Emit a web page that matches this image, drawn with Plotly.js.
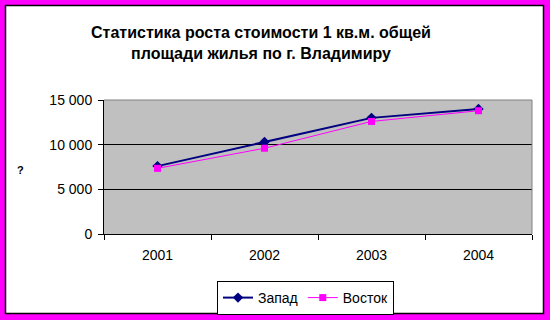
<!DOCTYPE html>
<html>
<head>
<meta charset="utf-8">
<script src="https://cdn.plot.ly/plotly-3.0.1.min.js"></script>
<style>html,body{margin:0;padding:0;background:#FF00FF;} #chart{width:550px;height:320px;}</style>
</head>
<body>
<div id="chart"></div>
<script>
const years = ['2001', '2002', '2003', '2004'];
const zapad = [7600, 10300, 13000, 14000];
const vostok = [7350, 9600, 12600, 13800];
const seriesNames = ['Запад', 'Восток'];
const titleText = 'Статистика роста стоимости 1 кв.м. общей<br>площади жилья по г. Владимиру';
const yTitleText = '?';

const W = 550, H = 320;
const mL = 104, mR = 18, mT = 100, mB = 86;
const pw = W - mL - mR, ph = H - mT - mB;
const px = v => (v - mL) / pw;
const py = v => (H - mB - v) / ph;

const font = 'Arial, "Liberation Sans", sans-serif';

const traces = [
  {
    x: years, y: zapad, name: seriesNames[0], type: 'scatter', mode: 'lines+markers',
    line: {color: '#000080', width: 2},
    marker: {symbol: 'diamond', size: 8, color: '#000080'}
  },
  {
    x: years, y: vostok, name: seriesNames[1], type: 'scatter', mode: 'lines+markers',
    line: {color: '#FF00FF', width: 1},
    marker: {symbol: 'square', size: 7, color: '#FF00FF'}
  }
];

const layout = {
  width: W, height: H,
  margin: {l: mL, r: mR, t: mT, b: mB, pad: 0, autoexpand: false},
  paper_bgcolor: '#FF00FF',
  plot_bgcolor: '#C0C0C0',
  separators: ', ',
  font: {family: font, size: 14, color: '#000'},
  title: {
    text: titleText,
    font: {family: font, size: 16, color: '#000', weight: 'bold'},
    xref: 'container', x: 261 / W, xanchor: 'center',
    yref: 'container', y: 1 - 38 / H, yanchor: 'top',
    automargin: false
  },
  xaxis: {
    type: 'category', range: [-0.5, 3.5], automargin: false,
    showline: true, linecolor: '#000', linewidth: 1,
    ticks: 'outside', tickson: 'boundaries', ticklen: 5, tickcolor: '#000',
    showgrid: false, zeroline: false,
    ticklabelstandoff: 8,
    tickfont: {family: font, size: 14, color: '#000'}
  },
  yaxis: {
    range: [0, 15000], dtick: 5000, tick0: 0, tickformat: ',d', automargin: false,
    showline: true, linecolor: '#000', linewidth: 1,
    ticks: 'outside', ticklen: 5, tickcolor: '#000',
    showgrid: true, gridcolor: '#000', gridwidth: 1, zeroline: false,
    ticklabelstandoff: 3,
    tickfont: {family: font, size: 14, color: '#000'}
  },
  legend: {
    orientation: 'h', xref: 'paper', yref: 'paper',
    x: px(217), xanchor: 'left', y: py(281), yanchor: 'top',
    bordercolor: '#000', borderwidth: 1, bgcolor: '#FFFFFF',
    font: {family: font, size: 14, color: '#000'},
    itemwidth: 30, tracegroupgap: 0
  },
  shapes: [
    {type: 'rect', xref: 'paper', yref: 'paper', layer: 'below',
     x0: px(5.5), x1: px(543.5), y0: py(313.5), y1: py(5.5),
     fillcolor: '#FFFFFF', line: {color: '#000', width: 1.5}},
    {type: 'rect', xref: 'paper', yref: 'paper', layer: 'below',
     x0: 0, x1: 1, y0: 0, y1: 1,
     fillcolor: '#C0C0C0', line: {width: 0}},
    {type: 'path', xref: 'paper', yref: 'paper', layer: 'above',
     path: 'M 0 1 L 1 1 L 1 0', line: {color: '#808080', width: 1}}
  ],
  annotations: [
    {text: yTitleText, xref: 'paper', yref: 'paper', x: px(20), y: py(170),
     xanchor: 'center', yanchor: 'middle', showarrow: false,
     font: {family: font, size: 11, color: '#000', weight: 'bold'}}
  ],
  showlegend: true
};

Plotly.newPlot('chart', traces, layout, {staticPlot: true, displayModeBar: false});
</script>
</body>
</html>
